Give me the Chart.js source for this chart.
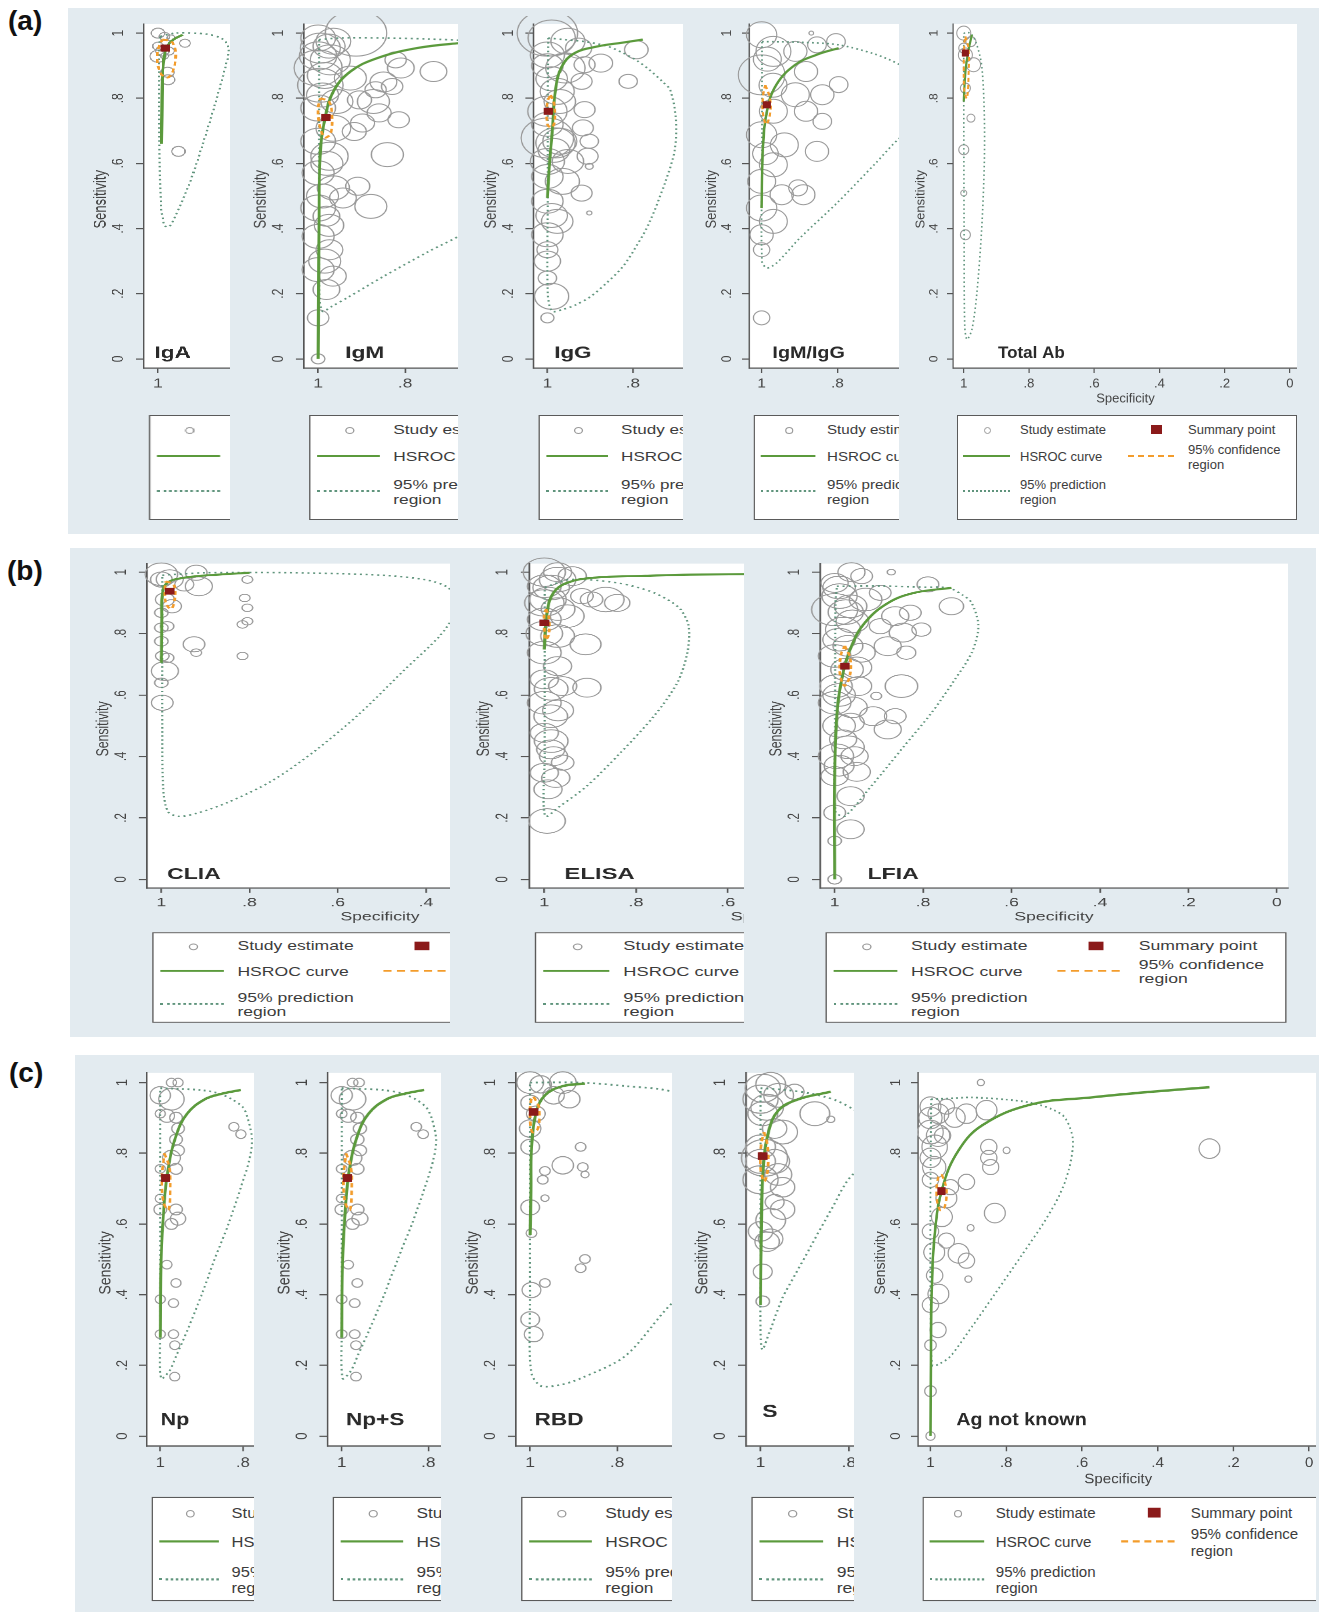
<!DOCTYPE html>
<html>
<head>
<meta charset="utf-8">
<title>HSROC plots</title>
<script src="https://cdn.jsdelivr.net/npm/chart.js@4.4.1/dist/chart.umd.min.js"></script>
<style>
  html, body { margin: 0; padding: 0; background: #ffffff; }
  body { position: relative; width: 1319px; height: 1616px; overflow: hidden; font-family: "Liberation Sans", Arial, sans-serif; }
  .section { position: absolute; background: #e3ebf0; }
  .tag { position: absolute; font: bold 28px/28px "Liberation Sans", Arial, sans-serif; color: #111; }
  .clip { position: absolute; overflow: hidden; }
  .inner { position: absolute; left: 0; top: 0; transform-origin: 0 0; }
  .inner canvas { position: absolute; left: 0; top: 0; }
  .legend { position: absolute; background: #fff; border: 1.5px solid #5a5a5a; box-sizing: border-box; }
  .legend span { position: absolute; font-size: 13px; line-height: 15px; color: #3c3c3c; white-space: nowrap; }
  .legend i { position: absolute; display: block; }
</style>
</head>
<body>
<script>
// ticks shared by every panel
var xTicks = [1, 0.8, 0.6, 0.4, 0.2, 0];
var yTicks = [0, 0.2, 0.4, 0.6, 0.8, 1];
var tickLabels = { '1': '1', '0.8': '.8', '0.6': '.6', '0.4': '.4', '0.2': '.2', '0': '0' };

// study estimates: [specificity, sensitivity, size]
var igaStudies = [[1.0,1.0,5],[0.985,0.99,4],[0.97,0.985,3],[0.938,0.969,4],[1.0,0.96,4],[0.99,0.945,5],[0.975,0.945,4],[1.0,0.929,6],[0.985,0.93,3],[0.978,0.88,5],[0.977,0.857,5],[0.953,0.637,5]];
var igaCurve = [[0.992,0.66],[0.991,0.75],[0.99,0.85],[0.988,0.9],[0.984,0.94],[0.976,0.965],[0.965,0.98],[0.943,0.995]];
var igaPred = [[0.995,0.99],[0.96,1.0],[0.92,1.0],[0.88,0.995],[0.85,0.98],[0.838,0.95],[0.845,0.9],[0.87,0.78],[0.9,0.65],[0.93,0.53],[0.96,0.44],[0.975,0.405],[0.985,0.41],[0.993,0.47],[0.996,0.6],[0.997,0.8],[0.997,0.95],[0.995,0.99]];
var igaConf = [[0.99,0.98],[0.97,0.975],[0.96,0.95],[0.962,0.9],[0.975,0.865],[0.99,0.87],[1.0,0.9],[1.0,0.95],[0.99,0.98]];
var igaSummary = [0.983, 0.954];

var igmStudies = [[0.913,1.0,23],[0.972,0.918,15],[1.0,0.893,18],[0.995,0.84,17],[1.0,0.77,13],[0.957,0.79,12],[0.926,0.862,12],[0.85,0.85,10],[0.81,0.893,10],[0.735,0.882,10],[0.873,0.79,12],[0.822,0.918,8],[0.83,0.836,8],[0.868,0.826,8],[0.815,0.734,8],[0.905,0.795,9],[0.86,0.755,9],[0.898,0.724,9],[0.917,0.698,9],[0.841,0.627,12],[0.909,0.53,9],[0.879,0.468,12],[0.943,0.494,10],[0.974,0.622,14],[1.0,0.571,12],[0.981,0.438,10],[1.0,0.376,12],[0.974,0.335,10],[1.0,0.274,12],[0.966,0.254,10],[0.981,0.213,10],[1.0,0.126,8],[1.0,0.0,5],[1.0,0.985,13],[0.995,0.954,15],[0.965,0.975,13],[1.0,0.93,14],[0.985,0.87,13],[0.975,0.96,12],[0.99,0.81,12],[0.965,0.708,13],[1.0,0.668,13],[0.98,0.6,12],[0.99,0.5,12],[1.0,0.463,13],[0.975,0.41,11],[0.985,0.3,12],[0.965,0.525,12]];
var igmCurve = [[1.0,0.0],[0.999,0.2],[0.998,0.4],[0.995,0.637],[0.984,0.74],[0.965,0.821],[0.926,0.882],[0.865,0.923],[0.773,0.954],[0.677,0.969],[0.6,0.975]];
var igmPred = [[0.998,0.98],[0.95,0.985],[0.85,0.985],[0.75,0.982],[0.65,0.975],[0.55,0.95],[0.48,0.85],[0.5,0.7],[0.57,0.52],[0.65,0.4],[0.75,0.327],[0.85,0.253],[0.93,0.19],[0.97,0.16],[0.99,0.146],[0.997,0.2],[0.998,0.5],[0.998,0.8],[0.998,0.98]];
var igmConf = [[0.995,0.8],[0.975,0.79],[0.968,0.74],[0.972,0.69],[0.985,0.68],[0.997,0.72],[1.0,0.77],[0.995,0.8]];
var igmSummary = [0.982, 0.741];

var iggStudies = [[1.0,1.0,23],[0.99,0.985,18],[0.958,0.893,15],[1.0,0.933,13],[0.977,0.821,13],[1.0,0.76,15],[1.0,0.678,20],[0.971,0.668,13],[1.0,0.606,13],[0.965,0.545,13],[1.0,0.484,12],[0.977,0.422,12],[1.0,0.381,12],[1.0,0.335,8],[1.0,0.248,7],[0.99,0.192,13],[1.0,0.126,5],[0.792,0.949,9],[0.811,0.852,7],[0.875,0.908,9],[0.913,0.903,8],[0.92,0.852,8],[0.913,0.765,8],[0.917,0.709,8],[0.902,0.668,7],[0.906,0.622,8],[0.902,0.591,3],[0.92,0.509,8],[0.902,0.448,2],[0.981,0.663,15],[0.952,0.606,12],[0.971,0.79,12],[0.952,0.975,13],[0.927,0.954,10],[1.0,0.9,12],[0.99,0.86,12],[1.0,0.72,12],[0.985,0.64,12],[1.0,0.56,12],[0.99,0.44,12],[1.0,0.3,10]];
var iggCurve = [[1.0,0.494],[0.995,0.6],[0.989,0.693],[0.981,0.826],[0.966,0.898],[0.936,0.939],[0.883,0.959],[0.823,0.971],[0.777,0.98]];
var iggPred = [[0.998,0.985],[0.96,0.98],[0.913,0.974],[0.86,0.96],[0.823,0.939],[0.79,0.915],[0.762,0.888],[0.73,0.85],[0.713,0.826],[0.7,0.744],[0.702,0.642],[0.725,0.54],[0.762,0.417],[0.79,0.35],[0.823,0.284],[0.86,0.235],[0.898,0.192],[0.935,0.165],[0.966,0.151],[0.989,0.146],[0.999,0.2],[0.999,0.5],[0.999,0.8],[0.998,0.985]];
var iggConf = [[0.992,0.81],[0.984,0.78],[0.983,0.73],[0.99,0.71],[1.0,0.72],[1.0,0.79],[0.992,0.81]];
var iggSummary = [0.998, 0.76];

var igmgStudies = [[1.0,0.995,13],[0.969,0.944,15],[1.0,0.872,20],[0.911,0.944,10],[0.854,0.964,8],[0.804,0.974,8],[0.883,0.882,10],[0.797,0.842,8],[0.84,0.811,10],[0.911,0.811,12],[0.883,0.76,10],[0.84,0.729,8],[0.969,0.76,12],[1.0,0.688,13],[0.94,0.657,12],[0.854,0.637,10],[0.969,0.596,12],[1.0,0.545,12],[0.947,0.504,10],[0.904,0.525,8],[0.89,0.504,10],[1.0,0.463,13],[0.969,0.422,12],[1.0,0.381,10],[1.0,0.335,7],[1.0,0.126,7],[0.869,1.0,2],[0.985,0.92,12],[0.97,0.84,12],[0.99,0.63,11]];
var igmgCurve = [[1.0,0.463],[0.997,0.637],[0.986,0.76],[0.961,0.842],[0.911,0.903],[0.854,0.934],[0.797,0.954]];
var igmgPred = [[0.999,0.974],[0.9,0.972],[0.797,0.964],[0.7,0.935],[0.636,0.903],[0.57,0.85],[0.55,0.77],[0.58,0.72],[0.636,0.678],[0.7,0.6],[0.8,0.48],[0.9,0.37],[0.96,0.295],[0.986,0.279],[0.999,0.3],[0.999,0.6],[0.999,0.9],[0.999,0.974]];
var igmgConf = [[0.99,0.84],[0.978,0.8],[0.978,0.75],[0.988,0.72],[0.997,0.76],[0.995,0.82],[0.99,0.84]];
var igmgSummary = [0.986, 0.78];

var totStudies = [[1.0,1.0,7],[0.978,0.974,5],[1.0,0.954,5],[0.995,0.933,7],[0.97,0.903,7],[0.995,0.831,5],[0.978,0.739,4],[1.0,0.642,5],[1.0,0.509,3],[0.995,0.381,5]];
var totCurve = [[1.0,0.79],[0.997,0.85],[0.993,0.9],[0.985,0.95],[0.975,0.995]];
var totPred = [[1.0,1.0],[0.98,1.0],[0.962,0.97],[0.945,0.9],[0.937,0.75],[0.937,0.6],[0.945,0.4],[0.96,0.2],[0.975,0.09],[0.99,0.06],[0.997,0.1],[0.999,0.4],[1.0,0.8],[1.0,1.0]];
var totConf = [[0.995,0.99],[0.985,0.95],[0.985,0.88],[0.99,0.8],[0.998,0.82],[1.0,0.9],[0.998,0.97],[0.995,0.99]];
var totSummary = [0.995, 0.939];

var cliaStudies = [[1.0,0.993,12],[0.981,0.977,10],[1.0,0.976,8],[0.921,0.998,8],[0.915,0.954,10],[0.948,0.96,7],[0.992,0.911,7],[0.976,0.889,7],[1.0,0.868,5],[1.0,0.819,5],[0.987,0.824,5],[1.0,0.775,5],[0.998,0.727,5],[0.987,0.721,5],[0.992,0.678,10],[1.0,0.64,5],[0.998,0.575,8],[0.926,0.765,8],[0.921,0.738,4],[0.805,0.976,4],[0.811,0.916,4],[0.805,0.884,4],[0.816,0.83,4],[0.805,0.84,4],[0.816,0.727,4]];
var cliaCurve = [[1.0,0.705],[0.999,0.85],[0.998,0.922],[0.987,0.965],[0.948,0.982],[0.871,0.992],[0.8,0.998]];
var cliaPred = [[0.998,0.99],[0.9,0.998],[0.7,0.998],[0.5,0.99],[0.4,0.975],[0.35,0.95],[0.33,0.9],[0.34,0.85],[0.37,0.79],[0.45,0.68],[0.55,0.54],[0.65,0.42],[0.75,0.32],[0.85,0.25],[0.92,0.215],[0.96,0.205],[0.985,0.22],[0.996,0.3],[0.998,0.5],[0.998,0.8],[0.998,0.99]];
var cliaConf = [[0.99,0.97],[0.972,0.96],[0.97,0.91],[0.978,0.88],[0.99,0.9],[0.992,0.95],[0.99,0.97]];
var cliaSummary = [0.981, 0.938];

var elisaStudies = [[1.0,1.0,15],[0.971,0.976,13],[1.0,0.954,12],[0.939,0.987,10],[0.992,0.911,13],[0.918,0.922,8],[0.866,0.911,13],[0.841,0.9,9],[0.897,0.911,8],[0.95,0.857,12],[1.0,0.846,12],[0.971,0.792,12],[0.91,0.765,11],[1.0,0.738,12],[0.971,0.694,10],[1.0,0.651,10],[0.96,0.629,10],[0.907,0.624,10],[1.0,0.575,12],[0.986,0.531,12],[1.0,0.477,10],[0.986,0.423,10],[0.98,0.401,10],[0.96,0.38,8],[1.0,0.347,10],[0.992,0.293,10],[0.994,0.19,13],[0.971,1.0,10],[1.0,0.9,14],[0.985,0.95,13],[0.97,0.88,12],[1.0,0.8,13],[0.985,0.62,12],[0.97,0.55,11],[0.985,0.45,12],[0.975,0.33,10]];
var elisaCurve = [[1.0,0.748],[0.994,0.868],[0.98,0.933],[0.951,0.965],[0.892,0.982],[0.78,0.988],[0.681,0.992],[0.4,0.995]];
var elisaPred = [[0.999,0.95],[0.95,0.975],[0.9,0.975],[0.841,0.965],[0.8,0.952],[0.761,0.933],[0.725,0.905],[0.703,0.879],[0.685,0.824],[0.688,0.738],[0.71,0.64],[0.761,0.531],[0.834,0.412],[0.907,0.304],[0.965,0.239],[0.998,0.206],[0.999,0.4],[0.999,0.7],[0.999,0.95]];
var elisaConf = [[0.996,0.88],[0.99,0.85],[0.99,0.8],[0.997,0.78],[1.0,0.82],[1.0,0.86],[0.996,0.88]];
var elisaSummary = [1.0, 0.835];

var lfiaStudies = [[0.962,1.0,10],[0.872,1.0,3],[0.789,0.96,8],[0.736,0.889,9],[1.0,0.878,17],[0.989,0.922,13],[0.964,0.889,12],[0.981,0.813,13],[0.93,0.911,12],[0.897,0.933,8],[0.863,0.857,10],[0.829,0.868,8],[0.897,0.824,8],[0.846,0.803,10],[0.804,0.813,7],[0.88,0.759,10],[0.838,0.738,7],[0.939,0.738,10],[1.0,0.727,12],[0.972,0.683,12],[0.997,0.629,12],[0.947,0.629,10],[0.849,0.629,12],[0.906,0.597,4],[1.0,0.575,12],[0.913,0.531,10],[0.863,0.531,8],[0.964,0.51,10],[0.88,0.488,10],[0.981,0.456,10],[0.997,0.401,13],[0.955,0.401,10],[1.0,0.336,10],[0.964,0.271,10],[1.0,0.217,8],[0.964,0.163,10],[1.0,0.125,5],[1.0,0.0,5],[1.0,0.965,10],[0.939,0.987,8],[0.99,0.95,12],[0.975,0.87,13],[0.96,0.84,12],[0.99,0.78,12],[0.97,0.76,11],[0.95,0.69,11],[0.99,0.6,12],[0.96,0.56,11],[0.99,0.5,12],[0.97,0.43,12],[0.99,0.37,11],[0.95,0.35,10]];
var lfiaCurve = [[1.0,0.0],[1.0,0.336],[0.994,0.553],[0.981,0.672],[0.962,0.759],[0.932,0.835],[0.879,0.9],[0.819,0.933],[0.736,0.949]];
var lfiaPred = [[0.995,0.954],[0.9,0.955],[0.796,0.951],[0.743,0.949],[0.71,0.925],[0.69,0.9],[0.675,0.824],[0.69,0.738],[0.728,0.651],[0.781,0.542],[0.849,0.423],[0.917,0.304],[0.977,0.206],[0.998,0.22],[0.999,0.5],[0.998,0.9],[0.995,0.954]];
var lfiaConf = [[0.977,0.76],[0.965,0.72],[0.966,0.66],[0.978,0.63],[0.988,0.67],[0.986,0.73],[0.977,0.76]];
var lfiaSummary = [0.977, 0.694];

var npStudies = [[0.973,1.0,4],[0.957,1.0,4],[1.0,0.964,8],[0.973,0.953,10],[1.0,0.912,4],[0.984,0.906,6],[0.962,0.901,5],[0.957,0.87,5],[0.962,0.839,5],[0.957,0.808,5],[0.973,0.787,7],[1.0,0.756,4],[0.962,0.756,5],[1.0,0.672,4],[1.0,0.641,5],[0.962,0.641,5],[0.957,0.615,6],[0.973,0.6,5],[0.984,0.485,4],[0.962,0.433,4],[1.0,0.387,4],[0.968,0.376,4],[1.0,0.288,4],[0.968,0.288,4],[0.965,0.257,4],[0.965,0.168,4],[0.822,0.875,4],[0.805,0.854,4]];
var npCurve = [[1.0,0.278],[0.998,0.496],[0.991,0.652],[0.981,0.756],[0.962,0.849],[0.935,0.912],[0.892,0.953],[0.849,0.969],[0.805,0.979]];
var npPred = [[1.0,0.984],[0.95,0.982],[0.903,0.979],[0.86,0.97],[0.827,0.953],[0.8,0.93],[0.789,0.901],[0.778,0.839],[0.785,0.78],[0.805,0.704],[0.835,0.6],[0.87,0.496],[0.9,0.4],[0.935,0.298],[0.96,0.23],[0.978,0.184],[0.998,0.163],[1.0,0.3],[1.0,0.6],[1.0,0.9],[1.0,0.984]];
var npConf = [[0.99,0.8],[0.978,0.76],[0.976,0.7],[0.98,0.64],[0.992,0.66],[0.996,0.73],[0.99,0.8]];
var npSummary = [0.987, 0.73];

var npsStudies = [[0.975,1.0,4],[0.96,1.0,4],[1.0,0.964,8],[0.975,0.953,10],[1.0,0.912,4],[0.985,0.906,6],[0.964,0.901,5],[0.958,0.87,5],[0.964,0.839,5],[0.958,0.808,5],[0.975,0.787,7],[1.0,0.756,4],[0.964,0.756,5],[1.0,0.672,4],[1.0,0.641,5],[0.964,0.641,5],[0.958,0.615,6],[0.975,0.6,5],[0.985,0.485,4],[0.964,0.433,4],[1.0,0.387,4],[0.97,0.376,4],[1.0,0.288,4],[0.97,0.288,4],[0.967,0.257,4],[0.967,0.168,4],[0.828,0.875,4],[0.812,0.854,4]];
var npsCurve = [[1.0,0.278],[0.998,0.496],[0.991,0.652],[0.982,0.756],[0.964,0.849],[0.938,0.912],[0.896,0.953],[0.853,0.969],[0.81,0.979]];
var npsPred = [[1.0,0.984],[0.95,0.982],[0.905,0.979],[0.863,0.97],[0.83,0.953],[0.805,0.93],[0.793,0.901],[0.782,0.839],[0.789,0.78],[0.808,0.704],[0.838,0.6],[0.872,0.496],[0.902,0.4],[0.937,0.298],[0.962,0.23],[0.979,0.184],[0.998,0.163],[1.0,0.3],[1.0,0.6],[1.0,0.9],[1.0,0.984]];
var npsConf = [[0.99,0.8],[0.979,0.76],[0.977,0.7],[0.981,0.64],[0.992,0.66],[0.996,0.73],[0.99,0.8]];
var npsSummary = [0.987, 0.73];

var rbdStudies = [[1.0,1.0,10],[0.976,0.995,8],[0.925,1.0,10],[0.946,0.964,8],[0.91,0.953,8],[1.0,0.943,7],[0.987,0.912,7],[1.0,0.87,8],[1.0,0.818,7],[0.884,0.818,4],[0.879,0.761,4],[0.925,0.766,8],[0.966,0.75,4],[0.971,0.725,4],[0.966,0.673,3],[1.0,0.647,7],[0.997,0.574,4],[0.874,0.501,4],[0.884,0.475,4],[0.966,0.433,4],[0.997,0.413,7],[1.0,0.33,7],[0.992,0.288,7],[0.874,0.74,3]];
var rbdCurve = [[1.0,0.569],[0.998,0.7],[0.997,0.808],[0.987,0.912],[0.966,0.964],[0.925,0.99],[0.874,0.997]];
var rbdPred = [[1.0,1.0],[0.884,1.0],[0.78,0.99],[0.674,0.974],[0.55,0.9],[0.5,0.7],[0.55,0.5],[0.674,0.376],[0.782,0.226],[0.884,0.163],[0.93,0.145],[0.976,0.142],[0.998,0.184],[1.0,0.4],[1.0,0.7],[1.0,1.0]];
var rbdConf = [[0.992,0.96],[0.98,0.93],[0.982,0.87],[0.995,0.86],[1.0,0.9],[0.998,0.95],[0.992,0.96]];
var rbdSummary = [0.992, 0.917];

var sStudies = [[0.995,0.984,13],[0.977,0.995,11],[0.959,0.964,11],[1.0,0.953,13],[0.923,0.974,7],[0.995,0.912,11],[0.968,0.87,9],[0.877,0.912,11],[0.841,0.896,3],[1.0,0.818,11],[0.991,0.787,17],[1.0,0.777,11],[0.968,0.777,11],[1.0,0.725,13],[0.95,0.704,9],[0.95,0.641,9],[0.977,0.61,11],[1.0,0.579,9],[0.977,0.558,9],[0.995,0.465,7],[0.995,0.381,5],[0.95,0.86,11],[0.968,0.662,7],[0.985,0.93,12],[0.96,0.74,10],[0.985,0.55,9]];
var sCurve = [[1.0,0.371],[0.998,0.6],[0.994,0.756],[0.982,0.86],[0.959,0.922],[0.914,0.953],[0.841,0.974]];
var sPred = [[1.0,0.984],[0.95,0.98],[0.886,0.969],[0.83,0.95],[0.786,0.922],[0.7,0.86],[0.65,0.8],[0.7,0.77],[0.786,0.745],[0.84,0.64],[0.886,0.537],[0.92,0.46],[0.95,0.392],[0.975,0.31],[0.997,0.246],[1.0,0.5],[1.0,0.8],[1.0,0.984]];
var sConf = [[0.992,0.86],[0.984,0.82],[0.984,0.75],[0.992,0.72],[1.0,0.76],[0.998,0.83],[0.992,0.86]];
var sSummary = [0.995, 0.792];

var agStudies = [[0.867,1.0,3],[0.263,0.813,9],[1.0,0.932,9],[0.979,0.912,9],[0.958,0.932,7],[0.936,0.901,9],[0.905,0.912,9],[0.852,0.922,9],[1.0,0.86,11],[0.989,0.818,11],[1.0,0.787,9],[0.968,0.85,7],[0.846,0.818,7],[0.846,0.787,7],[0.799,0.808,3],[0.841,0.761,7],[1.0,0.725,7],[0.905,0.719,7],[0.958,0.673,9],[0.83,0.631,9],[0.894,0.589,3],[1.0,0.579,7],[0.958,0.553,7],[0.926,0.517,9],[0.905,0.496,7],[0.989,0.454,7],[0.9,0.444,3],[0.979,0.402,9],[1.0,0.371,7],[1.0,0.257,5],[1.0,0.127,5],[1.0,0.0,4],[0.947,0.704,7],[1.0,0.9,10],[0.98,0.85,10],[0.99,0.76,10],[0.97,0.62,9],[0.99,0.52,9],[0.98,0.3,7]];
var agCurve = [[1.0,0.0],[0.999,0.2],[0.997,0.392],[0.989,0.569],[0.968,0.704],[0.926,0.808],[0.862,0.88],[0.735,0.938],[0.576,0.958],[0.417,0.974],[0.263,0.987]];
var agPred = [[0.998,0.953],[0.95,0.955],[0.894,0.958],[0.8,0.952],[0.735,0.943],[0.68,0.925],[0.645,0.901],[0.624,0.839],[0.634,0.756],[0.66,0.68],[0.703,0.6],[0.76,0.51],[0.83,0.402],[0.89,0.31],[0.947,0.226],[0.975,0.205],[0.995,0.2],[1.0,0.4],[1.0,0.7],[0.998,0.953]];
var agConf = [[0.97,0.74],[0.958,0.7],[0.962,0.65],[0.975,0.64],[0.984,0.68],[0.98,0.73],[0.97,0.74]];
var agSummary = [0.971, 0.693];

// template geometry of one Stata graph (before stretching)
var FONT = '"Liberation Sans", Arial, sans-serif';
var AX = 62, PT = 8, PW = 345, PH = 344;
var CW = AX + PW + 4, CH = PT + PH + 42;
var X_MIN = -0.025, X_MAX = 1.033, Y_MIN = -0.028, Y_MAX = 1.028;

var sections = [
  { tag: '(a)', tagX: 8, tagY: 7, bg: [68, 8, 1251, 526], top: 15.5, ky: 1.0, legH: 105, panels: [
    { name: 'IgA', axis: 143.6, kx: 1.335, right: 230, nameX: 8, nameY: 0.017, st: igaStudies, cv: igaCurve, pr: igaPred, cf: igaConf, sm: igaSummary },
    { name: 'IgM', axis: 303.6, kx: 1.335, right: 458, nameX: 31, nameY: 0.017, st: igmStudies, cv: igmCurve, pr: igmPred, cf: igmConf, sm: igmSummary },
    { name: 'IgG', axis: 532.9, kx: 1.311, right: 683, nameX: 16, nameY: 0.017, st: iggStudies, cv: iggCurve, pr: iggPred, cf: iggConf, sm: iggSummary },
    { name: 'IgM/IgG', axis: 748.8, kx: 1.163, right: 899, nameX: 20, nameY: 0.017, st: igmgStudies, cv: igmgCurve, pr: igmgPred, cf: igmgConf, sm: igmgSummary },
    { name: 'Total Ab', axis: 953, kx: 1.0, right: 1297, nameX: 45, nameY: 0.017, st: totStudies, cv: totCurve, pr: totPred, cf: totConf, sm: totSummary }
  ]},
  { tag: '(b)', tagX: 7, tagY: 557, bg: [70, 548, 1246, 489], top: 555.8, ky: 0.943, legH: 96, panels: [
    { name: 'CLIA', axis: 146.9, kx: 1.352, right: 450, nameX: 15, nameY: 0.016, st: cliaStudies, cv: cliaCurve, pr: cliaPred, cf: cliaConf, sm: cliaSummary },
    { name: 'ELISA', axis: 528.8, kx: 1.406, right: 744, nameX: 25, nameY: 0.016, st: elisaStudies, cv: elisaCurve, pr: elisaPred, cf: elisaConf, sm: elisaSummary },
    { name: 'LFIA', axis: 820.3, kx: 1.356, right: 1289, nameX: 35, nameY: 0.016, st: lfiaStudies, cv: lfiaCurve, pr: lfiaPred, cf: lfiaConf, sm: lfiaSummary }
  ]},
  { tag: '(c)', tagX: 9, tagY: 1059, bg: [75, 1055, 1244, 557], top: 1063.6, ky: 1.085, legH: 96, panels: [
    { name: 'Np', axis: 147.1, kx: 1.268, right: 253.6, nameX: 11, nameY: 0.044, st: npStudies, cv: npCurve, pr: npPred, cf: npConf, sm: npSummary },
    { name: 'Np+S', axis: 327.7, kx: 1.329, right: 441, nameX: 14, nameY: 0.044, st: npsStudies, cv: npsCurve, pr: npsPred, cf: npsConf, sm: npsSummary },
    { name: 'RBD', axis: 515.6, kx: 1.335, right: 672, nameX: 14, nameY: 0.044, st: rbdStudies, cv: rbdCurve, pr: rbdPred, cf: rbdConf, sm: rbdSummary },
    { name: 'S', axis: 745.6, kx: 1.354, right: 854.5, nameX: 12, nameY: 0.068, st: sStudies, cv: sCurve, pr: sPred, cf: sConf, sm: sSummary },
    { name: 'Ag not known', axis: 918.2, kx: 1.161, right: 1316, nameX: 33, nameY: 0.044, st: agStudies, cv: agCurve, pr: agPred, cf: agConf, sm: agSummary }
  ]}
];

// white plot region, rotated y labels, titles, panel name
var stataAxes = {
  id: 'stata',
  beforeDraw: function (chart) {
    var a = chart.chartArea, ctx = chart.ctx;
    ctx.save();
    ctx.fillStyle = '#ffffff';
    ctx.fillRect(a.left, a.top, a.right - a.left, a.bottom - a.top);
    ctx.restore();
  },
  afterDraw: function (chart, args, opts) {
    var a = chart.chartArea, ctx = chart.ctx, y = chart.scales.y;
    ctx.save();
    ctx.fillStyle = '#444';
    ctx.textAlign = 'center';
    ctx.textBaseline = 'middle';
    ctx.font = '12px ' + FONT;
    yTicks.forEach(function (v) {
      ctx.save();
      ctx.translate(a.left - 19, y.getPixelForValue(v));
      ctx.rotate(-Math.PI / 2);
      ctx.fillText(tickLabels[String(v)], 0, 0);
      ctx.restore();
    });
    ctx.font = '13px ' + FONT;
    ctx.save();
    ctx.translate(a.left - 32, y.getPixelForValue(0.49));
    ctx.rotate(-Math.PI / 2);
    ctx.fillText('Sensitivity', 0, 0);
    ctx.restore();
    ctx.fillText('Specificity', (a.left + a.right) / 2, a.bottom + 31);
    ctx.fillStyle = '#2a2a2a';
    ctx.textAlign = 'left';
    ctx.font = 'bold 17px ' + FONT;
    ctx.fillText(opts.name, a.left + opts.nameX, y.getPixelForValue(opts.nameY));
    ctx.restore();
  }
};
Chart.register(stataAxes);

function toXY(arr) {
  return arr.map(function (p) { return { x: p[0], y: p[1] }; });
}

function legendHtml() {
  return '<i style="left:26px;top:11px;width:5px;height:5px;border:1px solid #9a9a9a;border-radius:50%"></i>' +
    '<span style="left:62px;top:6px">Study estimate</span>' +
    '<i style="left:193px;top:9px;width:11px;height:9px;background:#8b1a1a"></i>' +
    '<span style="left:230px;top:6px">Summary point</span>' +
    '<i style="left:5px;top:39px;width:47px;border-top:2px solid #5b9a3c"></i>' +
    '<span style="left:62px;top:33px">HSROC curve</span>' +
    '<i style="left:170px;top:39px;width:46px;border-top:2.5px dashed #f39c2b"></i>' +
    '<span style="left:230px;top:26px">95% confidence<br>region</span>' +
    '<i style="left:5px;top:74px;width:47px;border-top:2px dotted #5f947c"></i>' +
    '<span style="left:62px;top:61px">95% prediction<br>region</span>';
}

function axisOpts(isX) {
  return {
    type: 'linear',
    reverse: isX,
    min: isX ? X_MIN : Y_MIN,
    max: isX ? X_MAX : Y_MAX,
    afterFit: function (s) { if (isX) { s.height = CH - PT - PH; } else { s.width = AX; } },
    afterBuildTicks: function (s) { s.ticks = (isX ? xTicks : yTicks).map(function (v) { return { value: v }; }); },
    border: { display: true, color: '#555', width: 1.2 },
    grid: { display: true, drawOnChartArea: false, drawTicks: true, tickLength: isX ? 5 : 6, color: '#555', lineWidth: 1.2 },
    ticks: isX ? { autoSkip: false, maxRotation: 0, padding: 3, color: '#444', font: { size: 13, family: FONT },
                   callback: function (v) { return tickLabels[String(v)]; } }
               : { display: false }
  };
}

function drawPanel(sec, p) {
  var left = p.axis - AX * p.kx;
  var TH = PT + PH + 47 + sec.legH + 4;
  var clip = document.createElement('div');
  clip.className = 'clip';
  clip.style.left = left + 'px';
  clip.style.top = sec.top + 'px';
  clip.style.width = (p.right - left) + 'px';
  clip.style.height = (TH * sec.ky) + 'px';
  var inner = document.createElement('div');
  inner.className = 'inner';
  inner.style.width = CW + 'px';
  inner.style.height = TH + 'px';
  inner.style.transform = 'scale(' + p.kx + ',' + sec.ky + ')';
  var cv = document.createElement('canvas');
  cv.width = CW;
  cv.height = CH;
  inner.appendChild(cv);
  var leg = document.createElement('div');
  leg.className = 'legend';
  leg.style.left = (AX + 4) + 'px';
  leg.style.top = (PT + PH + 47) + 'px';
  leg.style.width = (PW - 5) + 'px';
  leg.style.height = sec.legH + 'px';
  leg.innerHTML = legendHtml();
  inner.appendChild(leg);
  clip.appendChild(inner);
  document.body.appendChild(clip);

  new Chart(cv, {
    type: 'scatter',
    data: {
      datasets: [
        { type: 'scatter', data: [{ x: p.sm[0], y: p.sm[1] }], pointStyle: 'rect', pointRadius: 5,
          backgroundColor: '#8b1a1a', borderColor: '#8b1a1a', borderWidth: 0, order: 0 },
        { type: 'line', data: toXY(p.cf), borderColor: '#f39c2b', borderWidth: 2, borderDash: [4, 3],
          pointRadius: 0, tension: 0.35, fill: false, order: 1 },
        { type: 'line', data: toXY(p.cv), borderColor: '#5b9a3c', borderWidth: 2.2,
          pointRadius: 0, tension: 0.4, fill: false, order: 2 },
        { type: 'line', data: toXY(p.pr), borderColor: '#5f947c', borderWidth: 1.6, borderDash: [1.5, 2.8],
          pointRadius: 0, tension: 0.3, fill: false, order: 3 },
        { type: 'bubble', data: p.st.map(function (s) { return { x: s[0], y: s[1], r: s[2] }; }),
          backgroundColor: 'rgba(0,0,0,0)', borderColor: '#999999', borderWidth: 1, clip: false, order: 4 }
      ]
    },
    options: {
      responsive: false,
      animation: false,
      devicePixelRatio: 2,
      events: [],
      layout: { padding: { left: 0, top: PT, right: CW - AX - PW, bottom: 0 }, autoPadding: false },
      plugins: {
        legend: { display: false },
        tooltip: { enabled: false },
        stata: { name: p.name, nameX: p.nameX, nameY: p.nameY }
      },
      scales: { x: axisOpts(true), y: axisOpts(false) }
    }
  });
}

sections.forEach(function (sec) {
  var bg = document.createElement('div');
  bg.className = 'section';
  bg.style.left = sec.bg[0] + 'px';
  bg.style.top = sec.bg[1] + 'px';
  bg.style.width = sec.bg[2] + 'px';
  bg.style.height = sec.bg[3] + 'px';
  document.body.appendChild(bg);
  var tag = document.createElement('div');
  tag.className = 'tag';
  tag.style.left = sec.tagX + 'px';
  tag.style.top = sec.tagY + 'px';
  tag.textContent = sec.tag;
  document.body.appendChild(tag);
});
sections.forEach(function (sec) {
  sec.panels.forEach(function (p) { drawPanel(sec, p); });
});
</script>
</body>
</html>
